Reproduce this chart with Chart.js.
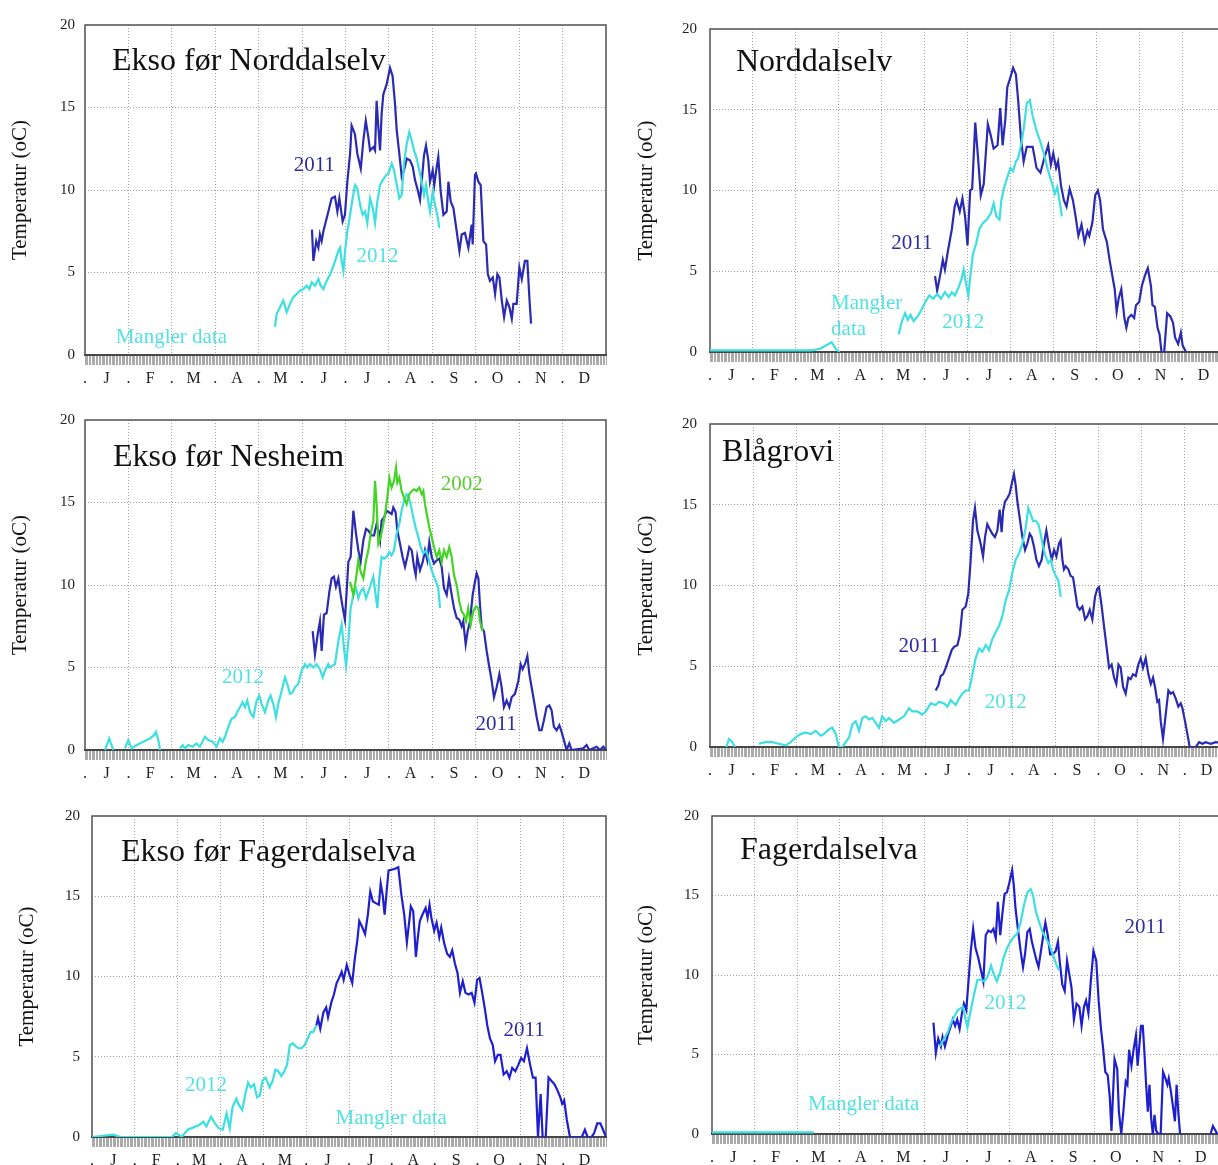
<!DOCTYPE html>
<html>
<head>
<meta charset="utf-8">
<script src="https://cdn.jsdelivr.net/npm/chart.js@4"></script>
<style>
  html, body { margin: 0; padding: 0; background: #fff; overflow: hidden; }
  body { width: 1218px; height: 1165px; position: relative; }
  canvas { position: absolute; }
</style>
</head>
<body>
<canvas id="c1"></canvas>
<canvas id="c2"></canvas>
<canvas id="c3"></canvas>
<canvas id="c4"></canvas>
<canvas id="c5"></canvas>
<canvas id="c6"></canvas>
<script>
// day of year, temperature (oC); null breaks the line
const monthLetters = ['J', 'F', 'M', 'A', 'M', 'J', 'J', 'A', 'S', 'O', 'N', 'D'];
const yTicks = [0, 5, 10, 15, 20];

// Ekso før Norddalselv
const eksoNord2011 = [[159,7.6],[160,5.7],[162,6.9],[163.5,6.5],[164.6,7.3],[165.8,6.9],[167,7.5],[170.5,8.7],[172.8,9.5],[175.1,9.6],[176.8,8.7],[178.2,9.5],[180.5,8.1],[182.1,8.5],[183.8,10.5],[185.7,12.2],[186.8,13.9],[189.1,13.4],[190.8,12.2],[193.2,11.3],[195,13.0],[196.7,14.2],[198.5,13.2],[199.7,12.4],[202,12.6],[203.2,12.4],[204.3,15.4],[205.5,13.8],[206.7,12.4],[207.8,14.6],[209,15.8],[211.3,16.4],[213.7,17.4],[215.5,16.9],[217.2,15.2],[218.4,13.6],[220.2,12.2],[221.9,10.8],[223.5,11.2],[225.4,11.9],[227.7,11.8],[229.6,11.4],[231.2,10.6],[232.8,10.1],[234.7,9.4],[235.9,10.5],[237.5,12.1],[238.9,12.7],[240.5,11.8],[241.7,10.5],[243.6,11.2],[244.7,10.3],[246.4,11.4],[247.5,12.0],[249.2,9.9],[251.1,8.5],[253.4,8.7],[254.6,10.5],[256.2,9.3],[258.1,8.9],[260.4,7.5],[262.3,6.3],[263.9,7.3],[266.2,7.4],[268.6,6.5],[270.9,7.9],[271.6,6.7],[273.2,10.9],[273.9,11.0],[275.6,10.5],[277.2,10.3],[279.1,6.9],[281,6.7],[282.2,4.9],[283.7,4.5],[285.7,4.7],[287.3,3.7],[288.9,4.9],[290.3,4.7],[292,3.3],[293.6,2.3],[295.5,3.3],[297.3,2.9],[299,2.2],[300.1,3.1],[302.4,3.1],[304.3,5.3],[306,4.6],[308.2,5.7],[309.9,5.7],[311.3,3.5],[312.5,1.9]];
const eksoNord2012 = [[133.1,1.7],[134.3,2.5],[136.6,2.9],[138.9,3.3],[141.3,2.6],[143.6,3.1],[145.9,3.5],[148.3,3.7],[150.6,3.9],[153,4.0],[155.3,4.2],[157.2,4.0],[158.8,4.4],[161.1,4.2],[163.5,4.6],[165.1,4.2],[167,4.0],[168.8,4.4],[171.2,4.8],[172.8,5.1],[175.2,5.7],[177.5,6.3],[178.7,6.5],[179.8,5.7],[181,5.1],[182.2,6.3],[183.8,7.5],[185.7,8.5],[187.5,9.5],[189.2,10.3],[190.8,10.1],[192.7,9.1],[194.5,8.5],[196.2,8.7],[197.8,8.0],[199.7,9.5],[201.6,8.9],[203.2,8.0],[204.8,9.3],[206.7,10.3],[208.6,10.6],[210.9,10.9],[212.5,11.0],[214.9,11.6],[216.5,11.2],[218.4,10.3],[220.2,9.5],[221.9,9.7],[223.5,11.6],[225.4,12.8],[227.2,13.5],[228.9,13.0],[230.5,12.4],[232.4,11.9],[234.2,11.2],[235.9,10.5],[237.5,9.7],[238.9,10.3],[240.5,9.3],[241.7,8.7],[243.6,9.9],[245.2,9.1],[246.8,8.5],[248.2,7.7]];

// Norddalselv
const nord2011 = [[159.5,4.7],[161,3.8],[163,4.7],[165,5.7],[166.5,5.1],[168.7,6.3],[171.4,7.6],[173.4,9.0],[174.8,9.4],[177,8.7],[178.9,9.5],[180.8,8.4],[182.5,6.6],[184.4,10.0],[185.8,10.1],[188,14.2],[190,12.0],[191.9,9.7],[194,10.4],[196.9,14.1],[199,13.4],[201,12.6],[203.8,12.8],[205.7,15.1],[207.4,12.8],[209.3,14.4],[210.7,16.4],[212.9,17.0],[214.8,17.6],[216.8,17.2],[218.4,15.6],[220.4,13.2],[222.3,11.8],[224.5,12.7],[228.7,12.7],[231.4,11.4],[234.2,11.1],[236.9,12.0],[239.7,12.8],[241.6,11.6],[243.3,12.3],[245.3,11.4],[246.7,11.8],[248.8,10.3],[250.8,9.4],[252.7,9.0],[254.9,10.1],[257.2,9.4],[259.1,8.4],[261.1,7.2],[263.3,7.9],[265.5,6.8],[267.5,7.5],[268.8,7.2],[271,8.0],[273,9.7],[274.9,10.0],[276.5,9.4],[278.5,7.6],[281.3,6.8],[283.2,5.7],[284.8,4.9],[286.8,3.9],[288.2,2.5],[289.6,3.3],[291.5,3.9],[293.7,2.1],[295.1,1.5],[296.5,2.1],[298.6,2.3],[300.6,2.1],[301.9,2.9],[304.2,3.1],[306.1,4.1],[308.1,4.7],[310.3,5.2],[312.5,4.1],[313.6,2.9],[315.3,2.8],[317.2,1.5],[318.6,1.1],[320,0],[321.9,0],[324,2.4],[326.3,2.2],[328.2,1.8],[329.6,0.9],[331.8,0.5],[333.7,1.2],[335,0.4],[337.4,0]];
const nord2012 = [[0,0.1],[72,0.1],[78,0.2],[86.3,0.6],[89,0.2],[91.8,0],[100,null],[133.8,1.1],[136,1.9],[138.3,2.4],[140.2,2.0],[142.1,2.3],[144.3,1.9],[147.1,2.2],[149.8,2.6],[152.6,3.1],[155.4,3.5],[158.2,3.3],[161,3.6],[163.7,3.3],[166.5,3.7],[169.2,3.4],[171.4,3.7],[173.6,3.5],[176.2,4.0],[178.2,4.5],[179.8,5.1],[181.7,4.1],[183.1,3.5],[184.5,4.7],[186.4,6.1],[188.6,6.7],[190.8,7.6],[193.6,8.0],[196.3,8.2],[199.1,8.6],[201,9.2],[203,8.4],[205.2,8.2],[206.5,9.4],[208.5,10.2],[210.7,10.8],[212.9,11.4],[214.8,11.2],[216.8,11.8],[218.4,12.0],[220.4,12.8],[222.3,13.8],[224.5,15.4],[226.7,15.6],[228.7,14.6],[231.4,13.7],[234.2,13.0],[236.9,12.2],[239.7,11.2],[242.5,10.4],[244.4,9.8],[246.1,10.2],[248,9.2],[249.4,8.4]];

// Ekso før Nesheim
const nes2011 = [[159.5,7.2],[161.1,5.8],[163,7.0],[164.6,7.8],[165.8,6.0],[167.4,8.2],[169.3,8.3],[171.2,9.6],[172.8,10.4],[174.4,10.5],[175.8,9.9],[177.5,10.4],[179.1,9.4],[181,8.4],[182.1,7.9],[183.3,9.6],[184.5,11.4],[186.1,11.7],[188,14.5],[189.9,13.1],[191.5,12.1],[193.1,11.4],[195,12.7],[196.9,13.4],[198.5,13.3],[200.8,13.0],[202.5,13.0],[204.3,13.7],[205.5,13.3],[206.7,12.7],[207.8,13.9],[209.5,14.1],[211.3,14.5],[213.2,14.4],[214.8,14.3],[216,14.7],[217.6,14.4],[218.8,13.3],[220.7,12.5],[222.5,11.7],[224.2,11.1],[225.8,11.7],[227.2,12.3],[228.9,12.1],[230.5,11.1],[231.7,10.6],[232.8,11.7],[234.7,10.9],[236.6,11.4],[238.2,12.1],[239.8,11.5],[241.2,12.6],[242.9,11.7],[244.5,11.3],[246.4,11.5],[248.2,11.6],[249.9,11.1],[251.5,9.8],[253.4,9.4],[255,10.4],[256.9,9.4],[258.5,8.6],[260.4,8.0],[262.2,7.9],[263.9,7.5],[265,7.8],[266.7,6.4],[268.1,7.2],[269.7,7.8],[271.6,9.4],[273.2,10.2],[274.4,10.7],[275.6,10.4],[276.7,8.8],[277.9,7.4],[279.5,7.2],[281.4,6.0],[283.3,5.0],[284.9,4.2],[286.5,3.2],[288.4,3.8],[290.3,4.6],[291.9,3.8],[293.5,2.6],[295.4,3.0],[297.3,2.6],[298.9,3.2],[301.2,3.4],[303.6,4.2],[305.2,5.2],[306.6,4.9],[308.2,5.2],[309.9,5.7],[311.3,4.6],[312.9,3.8],[314.5,3.0],[316.4,2.0],[318.3,1.2],[319.9,1.2],[321.5,1.8],[323.4,2.6],[325.3,2.7],[326.9,2.4],[328.5,1.4],[330.4,1.2],[332.3,1.5],[333.9,1.1],[335.5,0.6],[337.4,0],[339.3,0.4],[340.9,0],[349.1,0.1],[351.4,0.3],[353.3,0],[358.4,0.2],[360.8,0],[363.1,0.2],[365,0]];
const nes2012 = [[14,0],[17,0.7],[19.8,0],[24,null],[28,0.1],[30.3,0.6],[32.7,0.1],[36.2,0.3],[40.9,0.5],[45.5,0.7],[48.3,0.9],[49.7,1.1],[51.4,0.6],[52.5,0],[60,null],[66.5,0.1],[68.4,0.3],[70,0.1],[72.4,0.3],[75.4,0.2],[78.2,0.4],[80.5,0.2],[84,0.8],[86.4,0.6],[89.4,0.5],[92.2,0.2],[94.6,0.7],[96.4,0.5],[98.1,0.8],[100.4,1.4],[102.7,1.9],[105.1,2.0],[106.7,2.3],[108.6,2.6],[110.4,2.9],[112.1,2.6],[113.7,3.0],[115.6,2.3],[117.9,2.0],[120.3,3.0],[122.1,3.3],[123.7,2.8],[126.1,2.3],[128.4,3.0],[130,3.3],[131.9,2.8],[133.8,2.0],[135.4,2.8],[137.8,3.6],[140.1,4.4],[141.7,4.0],[143.6,3.4],[145.5,3.5],[147.1,3.8],[149.4,4.0],[151.8,4.8],[154.1,5.2],[155.7,5.0],[157.6,5.2],[159.9,5.0],[162.3,5.2],[164.6,4.9],[166.5,4.4],[168.1,4.8],[170.4,5.2],[171.6,5.0],[175.1,5.2],[177.5,6.6],[179.8,7.6],[181.4,6.2],[182.9,5.1],[184.5,6.6],[186.1,8.6],[188,9.4],[189.9,9.8],[191.5,9.2],[193.1,9.6],[195,9.8],[196.9,9.2],[198.5,9.6],[200.1,10.0],[202,10.5],[203.9,9.2],[204.8,8.6],[206.2,10.4],[207.8,11.7],[209.5,11.6],[211.3,11.7],[213.2,12.0],[214.8,11.8],[216.5,12.1],[218.3,13.1],[220.2,13.7],[221.8,14.5],[223.5,15.1],[225.3,15.5],[226.5,15.4],[228.1,14.9],[230,14.1],[231.6,13.5],[233.5,12.9],[235.2,12.3],[237,11.9],[238.9,12.1],[240.5,11.7],[242.2,11.1],[244,10.6],[245.9,10.2],[247.5,9.8],[248.7,8.6]];
const nes2002 = [[185.7,10.2],[188,9.4],[189.9,10.4],[191.5,11.5],[193.1,10.8],[195,10.4],[196.9,11.5],[198.5,12.1],[200.1,13.1],[202,13.9],[203.2,16.3],[204.3,14.9],[205.5,12.5],[207.1,12.9],[209,13.7],[210.2,14.3],[211.8,15.3],[213.2,16.5],[214.8,15.9],[216.5,16.3],[217.9,17.1],[218.8,16.2],[220.2,16.5],[221.8,15.7],[223.5,15.3],[225.3,14.9],[227.2,15.5],[228.9,15.7],[230.5,15.8],[232.4,15.7],[234.2,15.9],[235.9,15.5],[237,15.7],[238.2,14.9],[239.4,14.3],[241.2,13.5],[242.9,12.9],[244.5,12.3],[246.4,11.7],[248.2,12.1],[249.9,11.4],[251.5,12.1],[253.4,11.7],[255.2,12.3],[256.9,11.7],[258.5,10.6],[260.4,10.0],[262.2,9.0],[263.9,8.4],[265.5,8.2],[266.9,7.8],[268.5,8.6],[270.2,7.6],[272,8.4],[273.9,8.7],[275.6,8.6],[276.7,7.8],[278.6,7.2]];

// Blågrovi
const bla2011 = [[159,3.5],[160.9,3.8],[162.6,4.4],[164.2,4.5],[166.1,4.9],[168,5.4],[170.3,6.0],[172,6.2],[174.3,6.3],[176,6.9],[177.8,8.5],[180.2,8.7],[182,9.5],[183.7,11.6],[185.3,14.0],[186.7,14.8],[188.4,13.4],[190.7,12.6],[192.4,11.8],[193.8,13.0],[195.4,13.8],[197.1,13.5],[198.9,13.2],[200.8,13.0],[202.5,13.4],[204.1,14.7],[205.5,13.3],[206.5,14.6],[207.9,15.2],[209.5,15.4],[211.2,15.7],[212.6,16.3],[214.2,16.9],[215.4,16.2],[216.6,15.2],[218.2,14.2],[220.1,13.0],[222,12.2],[223.6,12.6],[225.3,13.2],[226.7,13.0],[228.3,12.4],[230,11.6],[231.8,11.2],[233.7,11.6],[235.4,12.6],[237,13.4],[238.9,12.4],[240.8,11.6],[242.4,12.2],[244.1,11.8],[245.9,12.6],[247.1,12.8],[248.3,11.6],[249.4,11.0],[250.6,11.2],[252.5,11.0],[254.1,10.6],[255.8,10.5],[257.2,9.7],[258.9,8.7],[260.5,8.5],[262.4,8.7],[264.3,7.9],[265.9,8.1],[267.6,8.5],[269.4,7.9],[271.3,9.3],[272.9,9.8],[274.1,9.9],[276,8.7],[277.6,7.5],[279.3,6.3],[281.2,4.9],[283,5.1],[284.7,4.3],[286.3,3.9],[287.8,5.1],[289.4,4.9],[291.1,3.7],[292.9,3.3],[294.8,4.3],[296.4,4.2],[298.1,4.5],[300,4.4],[301.8,5.1],[303.5,5.5],[305.1,4.9],[307,5.5],[308.9,4.5],[310.6,3.9],[312.2,4.3],[313.6,3.7],[315.2,2.8],[316.4,2.9],[317.6,1.6],[319.2,0.5],[321.1,2.0],[323,3.5],[324.6,3.3],[326.3,3.4],[328.2,3.0],[330,2.5],[331.7,2.7],[332.9,2.4],[334.7,1.6],[336.4,0.8],[338,0],[342.3,0],[344.6,0.3],[347,0.2],[349.3,0.3],[352.8,0.2],[356.4,0.3],[365,0.2]];
const bla2012 = [[11.5,0],[13.4,0.5],[15.7,0.3],[17.6,0],[25,null],[34.5,0.2],[39.2,0.3],[43.9,0.3],[48.6,0.2],[53.3,0.1],[56.8,0.3],[60.4,0.6],[63.9,0.8],[67.4,0.9],[70.9,0.8],[74.5,1.0],[78,0.7],[80.3,0.8],[83.9,1.1],[86.2,1.2],[88.6,0.8],[90.9,0],[93.3,0],[95.6,0.3],[98,0.6],[100.3,1.4],[102.7,1.6],[105,1.0],[107.3,1.8],[109.7,1.9],[112,1.7],[114.4,1.8],[116.7,1.5],[119.1,1.2],[121.4,1.9],[123.8,1.6],[126.1,1.8],[129.7,1.5],[133.2,1.7],[136.7,1.9],[140.2,2.4],[142.6,2.2],[146.1,2.2],[149.6,2.0],[152,2.2],[155.5,2.7],[159,2.6],[161.4,2.8],[164.9,2.7],[167.3,2.5],[169.6,2.9],[173.1,2.6],[175.5,3.0],[177.8,3.3],[180.2,3.5],[182.5,3.5],[184.9,4.5],[187.2,5.5],[189.6,6.1],[191.9,5.9],[194.3,6.3],[196.6,6.0],[199,6.7],[201.3,7.1],[203.7,7.5],[206,8.1],[208.4,9.1],[210.7,9.7],[213.1,10.8],[215.4,11.6],[217.8,12.0],[220.1,12.6],[222.5,13.6],[224.3,14.8],[226,14.4],[227.6,14.0],[229.5,14.0],[231.4,13.8],[233,13.2],[234.7,12.4],[236.5,11.8],[238.4,11.4],[240.1,11.6],[241.7,11.0],[243.6,10.6],[245.5,10.3],[247.1,9.3]];

// Ekso før Fagerdalselva
const eksoFag2012 = [[0,0],[15,0.15],[20,0],[56.8,0],[59.6,0.25],[63.7,0],[67.9,0.45],[72,0.6],[76.2,0.75],[79,0.95],[81.2,0.65],[84.5,1.26],[87.3,0.85],[90,0.55],[92.8,0.45],[95.6,1.46],[97.8,0.55],[99.8,1.87],[102.5,2.38],[104.5,1.97],[106.7,1.67],[108.9,2.68],[110.8,3.39],[112.8,3.09],[115,3.29],[117.2,2.48],[119.2,2.58],[121.1,3.5],[123.3,3.7],[126.1,3.09],[128.3,3.5],[130.2,4.2],[132.2,4.1],[134.4,3.8],[136.6,4.1],[138.5,4.5],[140.5,5.73],[142.7,5.83],[144.9,5.63],[146.9,5.53],[148.8,5.53],[151,5.73],[153.2,6.14],[155.2,6.54],[157.1,6.54],[159.3,6.95]];
const eksoFag2011 = [[159.3,6.95],[160.5,7.4],[162.1,6.75],[164.3,7.76],[166.3,8.07],[167.6,7.46],[169.9,8.37],[171.8,8.88],[173.7,9.59],[175.4,9.9],[177.3,10.3],[178.7,9.8],[180.9,10.71],[182.9,10.1],[184.8,9.59],[186.5,11.02],[188.4,12.24],[189.8,13.46],[192,13.05],[193.9,12.64],[195.9,13.86],[197.6,15.28],[199.5,14.67],[201.5,14.57],[203.7,14.47],[205,15.79],[206.4,15.08],[207.8,13.86],[209.2,15.28],[210.6,16.61],[213.4,16.67],[215.3,16.71],[217.5,16.81],[219.7,15.08],[221.7,13.86],[223.6,12.13],[225.3,13.46],[226.4,14.37],[228.1,14.07],[230,11.22],[231.4,12.44],[232.8,13.46],[234.7,13.86],[236.9,14.27],[238.3,13.66],[239.7,14.47],[241,13.66],[243,12.85],[244.7,13.35],[246.6,12.44],[248,13.05],[250.2,12.03],[252.2,11.42],[254.1,11.22],[255.8,11.63],[257.7,10.81],[259.6,10.2],[261.3,8.98],[263.3,9.7],[265.2,8.98],[267.4,8.88],[269.6,8.98],[271.6,8.37],[273.5,9.8],[275.2,9.9],[277.1,8.98],[279,7.97],[280.7,6.95],[282.6,6.14],[284.6,5.73],[286.2,4.72],[288.2,5.12],[290.1,5.12],[292.3,3.9],[294.5,4.1],[296.4,3.7],[298.4,4.31],[300.6,4.1],[302.8,4.51],[304.7,4.92],[306.7,4.72],[308.9,5.53],[311.1,4.51],[313.1,3.7],[315,3.7],[316.7,0],[318.6,2.68],[320,0],[322.2,0],[324.2,3.7],[326.2,3.5],[328.4,3.29],[330.6,2.89],[332.5,2.48],[333.9,2.07],[335.3,2.28],[337.2,1.06],[339.4,0],[343.6,0],[347.8,0],[350,0.45],[351.9,0],[354.7,0],[356.6,0.25],[358.8,0.85],[361,0.85],[362.9,0.45],[365,0]];

// Fagerdalselva
const fag2011 = [[158.5,7.0],[160.2,5.1],[161.9,6.0],[163.8,5.5],[165,6.1],[166.7,5.5],[168.7,6.2],[170.6,6.7],[172.3,7.2],[174,6.8],[175.5,7.2],[177.2,6.6],[178.9,7.6],[180.3,8.2],[182,7.8],[183.2,9.2],[185.2,11.5],[186.9,12.9],[188.6,11.7],[190.5,11.1],[192.5,10.3],[194.2,9.6],[195.9,12.5],[197.8,12.8],[199.7,12.7],[201.4,12.9],[203.1,12.3],[204.6,14.6],[206.3,12.5],[208,14.0],[209.4,15.1],[211.1,15.2],[212.8,15.8],[214.8,16.6],[216,15.6],[217.2,14.2],[219.2,12.7],[220.9,11.5],[222.6,10.5],[224,11.3],[225.7,12.7],[227.4,12.9],[228.9,12.1],[230.6,11.5],[232.3,10.9],[233.7,10.5],[235.4,11.5],[237.1,12.5],[238.6,13.3],[240.3,12.5],[242,11.3],[243.9,11.3],[245.9,11.5],[247.6,12.1],[248.8,10.9],[250.7,9.4],[252.4,9.0],[254.1,10.9],[255.6,10.1],[257.3,9.2],[259,7.2],[260.9,8.2],[262.9,8.0],[264.5,6.8],[266.2,8.0],[267.7,8.4],[269.4,7.6],[271.1,9.6],[273,11.5],[275,10.9],[276.7,8.4],[278.4,6.6],[279.8,5.5],[281.5,3.9],[283.2,3.7],[284.7,2.3],[285.9,0.2],[287.1,2.7],[288.1,4.7],[290,4.1],[291.2,1.4],[292.9,0],[294.4,1.4],[296.1,3.3],[297.3,3.1],[298.5,5.3],[300.2,4.3],[301.7,5.3],[303.4,6.2],[304.6,4.3],[305.8,5.5],[307,6.8],[308.3,6.8],[309.5,5.1],[310.7,3.1],[311.9,1.4],[313.1,3.1],[314.3,1.0],[315.5,0],[316.7,1.2],[317.9,0.2],[319.6,0],[321.1,0],[322.8,3.9],[324.5,3.5],[325.9,3.1],[326.9,3.5],[328.4,2.7],[330.1,1.6],[331.3,0.8],[332.5,3.1],[333.7,1.4],[335,0],[345,null],[356.8,0],[358.5,0.5],[360.4,0.2],[361.6,0]];
const fag2012 = [[0,0.1],[72.8,0.1],[100,null],[163,5.5],[165.5,5.9],[168.7,6.4],[171.1,7.0],[173.5,7.4],[176,7.8],[179.6,8.0],[182.8,6.7],[185.2,7.8],[187.6,8.8],[190,9.7],[192.5,9.7],[194.9,9.6],[197.3,9.9],[199.7,10.6],[201.4,10.1],[203.9,9.6],[206.3,10.2],[208.7,11.1],[211.2,11.7],[213.6,12.1],[216,12.4],[218.4,12.6],[220.9,13.3],[223.3,14.4],[225.7,15.2],[228.1,15.4],[229.8,15.0],[231.8,14.0],[234.2,13.3],[236.6,12.7],[239,12.3],[241.5,11.9],[243.9,11.3],[246.3,10.7],[248.3,10.3]];

const serif = '"Liberation Serif", "Times New Roman", serif';
const blue = '#2a2ab2', blueB = '#1f1fcf', cyan = '#3ddfe0', green = '#44d424';
const blueTxt = '#2d2da0', cyanTxt = '#52e2e2', greenTxt = '#5ccc30';

// tick marks for every day along the bottom strip, and half-month label slots
const dayTicks = [];
for (let d = 0; d <= 365; d++) dayTicks.push(d);
const monthSlots = [];
const monthText = [];
for (let k = 0; k < 24; k++) {
  monthSlots.push(k * 365 / 24);
  monthText.push(k % 2 === 0 ? '.' : monthLetters[(k - 1) / 2]);
}

const framePlugin = {
  id: 'frame',
  beforeDatasetsDraw(chart) {
    const a = chart.chartArea, ctx = chart.ctx;
    ctx.save();
    ctx.strokeStyle = '#505050';
    ctx.lineWidth = 1.5;
    ctx.strokeRect(a.left, a.top, a.right - a.left, a.bottom - a.top);
    ctx.restore();
  }
};

function notesPlugin(notes) {
  return {
    id: 'notes',
    afterDatasetsDraw(chart) {
      const ctx = chart.ctx, xs = chart.scales.x, ys = chart.scales.y;
      ctx.save();
      notes.forEach(n => {
        ctx.font = (n.size || 21) + 'px ' + serif;
        ctx.fillStyle = n.color;
        ctx.textAlign = n.align || 'center';
        ctx.textBaseline = 'middle';
        ctx.fillText(n.text, xs.getPixelForValue(n.day), ys.getPixelForValue(n.temp));
      });
      ctx.restore();
    }
  };
}

function makePanel(id, g, series, notes) {
  const canvas = document.getElementById(id);
  const padTop = 14;
  const W = g.canvasWidth;
  const H = padTop + (g.bottom - g.top) + 10 + 30;
  canvas.width = W;
  canvas.height = H;
  canvas.style.left = g.canvasLeft + 'px';
  canvas.style.top = (g.top - padTop) + 'px';

  new Chart(canvas, {
    type: 'line',
    data: {
      datasets: series.map(s => ({
        data: s.points.map(p => ({ x: p[0], y: p[1] })),
        borderColor: s.color,
        borderWidth: 2.2,
        pointRadius: 0,
        tension: 0,
        fill: false,
        spanGaps: false
      }))
    },
    options: {
      responsive: false,
      animation: false,
      events: [],
      layout: { padding: { top: padTop, left: 0, bottom: 0, right: W - (g.right - g.canvasLeft) } },
      plugins: { legend: { display: false }, tooltip: { enabled: false } },
      scales: {
        x: {
          type: 'linear', position: 'bottom', min: 0, max: 365, weight: 0,
          afterBuildTicks: ax => { ax.ticks = dayTicks.map(v => ({ value: v })); },
          afterFit: ax => { ax.height = 10; },
          ticks: { display: false },
          grid: { drawOnChartArea: false, drawTicks: true, tickLength: 10, tickColor: '#ababab', tickWidth: 1 },
          border: { display: true, color: '#333', width: 2 }
        },
        months: {
          type: 'linear', position: 'bottom', min: 0, max: 365, weight: 1,
          afterBuildTicks: ax => { ax.ticks = monthSlots.map(v => ({ value: v })); },
          afterFit: ax => { ax.height = 30; },
          ticks: {
            autoSkip: false, maxRotation: 0, padding: 4,
            font: { family: serif, size: 16 }, color: '#222',
            callback: (v, i) => monthText[i]
          },
          grid: {
            drawTicks: false, lineWidth: 1,
            color: c => (c.index % 2 === 0 && c.index > 0) ? '#a2a2a2' : 'rgba(0,0,0,0)'
          },
          border: { display: false, dash: [1, 2] }
        },
        y: {
          min: 0, max: 20,
          afterBuildTicks: ax => { ax.ticks = yTicks.map(v => ({ value: v })); },
          afterFit: ax => { ax.width = g.left - g.canvasLeft; },
          ticks: { padding: g.tickPad, font: { family: serif, size: 15 }, color: '#222' },
          title: {
            display: true, text: 'Temperatur (oC)', color: '#111',
            font: { family: serif, size: 21 }, padding: { top: g.titlePad, bottom: 0 }
          },
          grid: {
            drawTicks: false, lineWidth: 1,
            color: c => (c.tick && c.tick.value > 0 && c.tick.value < 20) ? '#a2a2a2' : 'rgba(0,0,0,0)'
          },
          border: { display: false, dash: [1, 2] }
        }
      }
    },
    plugins: [framePlugin, notesPlugin(notes)]
  });
}

const leftCol = { canvasLeft: 0, canvasWidth: 612 };
const rightCol = { canvasLeft: 622, canvasWidth: 608 };

makePanel('c1', { ...leftCol, left: 85, right: 606, top: 20, bottom: 355, tickPad: 10, titlePad: 8 }, [
  { points: eksoNord2012, color: cyan },
  { points: eksoNord2011, color: blue }
], [
  { text: 'Ekso før Norddalselv', day: 18.9, temp: 17.8, color: '#111', size: 32, align: 'left' },
  { text: '2011', day: 160.6, temp: 11.5, color: blueTxt },
  { text: '2012', day: 204.9, temp: 6.0, color: cyanTxt },
  { text: 'Mangler data', day: 60.5, temp: 1.07, color: cyanTxt }
]);

makePanel('c2', { ...rightCol, left: 710, right: 1225, top: 21, bottom: 352, tickPad: 13, titlePad: 12 }, [
  { points: nord2012, color: cyan },
  { points: nord2011, color: blue }
], [
  { text: 'Norddalselv', day: 18.4, temp: 17.9, color: '#111', size: 32, align: 'left' },
  { text: '2011', day: 143, temp: 6.75, color: blueTxt },
  { text: '2012', day: 179.5, temp: 1.8, color: cyanTxt },
  { text: 'Mangler', day: 85.8, temp: 3.0, color: cyanTxt, align: 'left' },
  { text: 'data', day: 85.8, temp: 1.4, color: cyanTxt, align: 'left' }
]);

makePanel('c3', { ...leftCol, left: 85, right: 606, top: 415, bottom: 750, tickPad: 10, titlePad: 8 }, [
  { points: nes2002, color: green },
  { points: nes2012, color: cyan },
  { points: nes2011, color: blue }
], [
  { text: 'Ekso før Nesheim', day: 19.6, temp: 17.7, color: '#111', size: 32, align: 'left' },
  { text: '2012', day: 110.7, temp: 4.4, color: cyanTxt },
  { text: '2002', day: 264, temp: 16.1, color: greenTxt },
  { text: '2011', day: 288, temp: 1.55, color: blueTxt }
]);

makePanel('c4', { ...rightCol, left: 710, right: 1228, top: 416, bottom: 747, tickPad: 13, titlePad: 12 }, [
  { points: bla2012, color: cyan },
  { points: bla2011, color: blue }
], [
  { text: 'Blågrovi', day: 8.5, temp: 18.2, color: '#111', size: 32, align: 'left' },
  { text: '2011', day: 147.3, temp: 6.2, color: blueTxt },
  { text: '2012', day: 208.4, temp: 2.74, color: cyanTxt }
]);

makePanel('c5', { ...leftCol, left: 92, right: 606, top: 809, bottom: 1137, tickPad: 12, titlePad: 15 }, [
  { points: eksoFag2012, color: cyan },
  { points: eksoFag2011, color: blueB }
], [
  { text: 'Ekso før Fagerdalselva', day: 20.6, temp: 17.75, color: '#111', size: 32, align: 'left' },
  { text: '2012', day: 80.9, temp: 3.2, color: cyanTxt },
  { text: '2011', day: 306.8, temp: 6.65, color: blueTxt },
  { text: 'Mangler data', day: 212.5, temp: 1.16, color: cyanTxt }
]);

makePanel('c6', { ...rightCol, left: 712, right: 1222, top: 808, bottom: 1134, tickPad: 13, titlePad: 12 }, [
  { points: fag2012, color: cyan },
  { points: fag2011, color: blueB }
], [
  { text: 'Fagerdalselva', day: 20, temp: 17.85, color: '#111', size: 32, align: 'left' },
  { text: '2011', day: 310, temp: 13.0, color: blueTxt },
  { text: '2012', day: 210, temp: 8.2, color: cyanTxt },
  { text: 'Mangler data', day: 108.5, temp: 1.85, color: cyanTxt }
]);
</script>
</body>
</html>
